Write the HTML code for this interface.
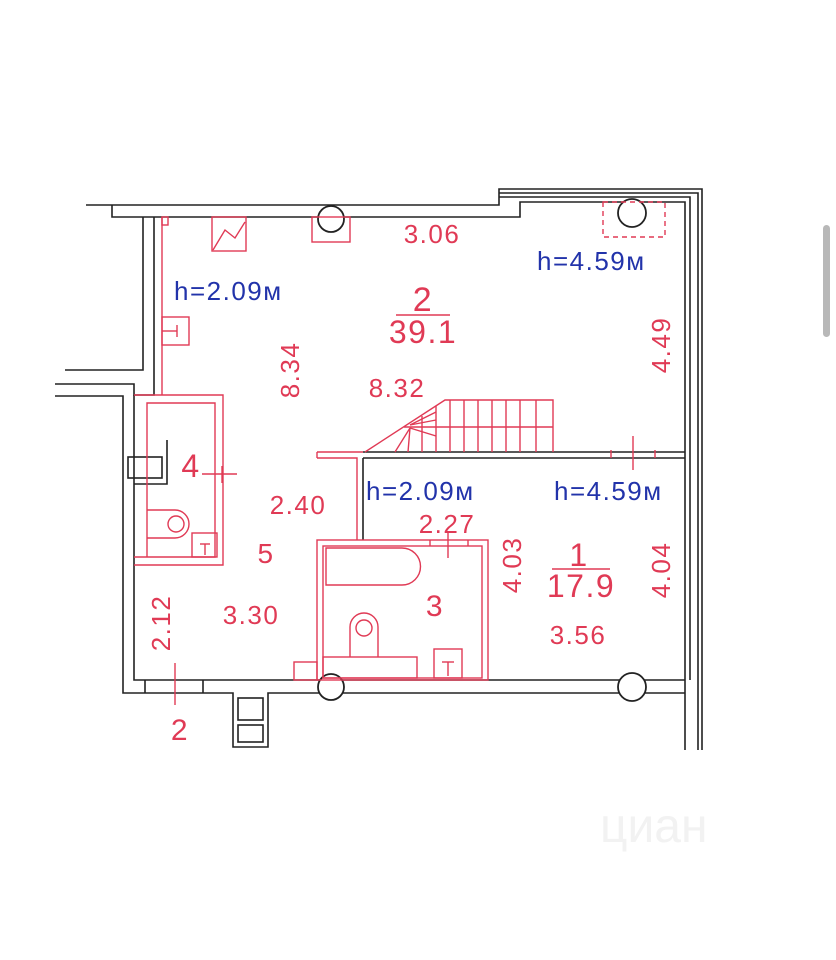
<!DOCTYPE html><html><head><meta charset="utf-8"><style>body{margin:0;background:#fff}svg{display:block}</style></head><body>
<svg width="836" height="960" viewBox="0 0 836 960" xmlns="http://www.w3.org/2000/svg" font-family="Liberation Sans, sans-serif">
<rect width="836" height="960" fill="#fff"/>
<rect x="823" y="225" width="7" height="112" rx="3.5" fill="#b8b8b8"/>
<g stroke="#222" stroke-width="1.6" fill="none">
<polyline points="86,205 499,205 499,189 702,189 702,750"/>
<polyline points="499,193 698,193 698,750"/>
<polyline points="499,197 690,197 690,680"/>
<polyline points="112,205 112,217 520,217 520,202 685,202 685,750"/>
<polyline points="143,217 143,370 65,370"/>
<polyline points="154,217 154,395 134,395 134,384 55,384"/>
<polyline points="55,396 123,396 123,693 233,693 233,747 268,747 268,693 318,693"/>
<polyline points="134,395 134,680 318,680"/>
<rect x="128" y="457" width="34" height="21"/>
<polyline points="134,484 167,484 167,440"/>
<rect x="238" y="698" width="25" height="22"/><rect x="238" y="725" width="25" height="17"/>
<line x1="145" y1="680" x2="145" y2="693"/><line x1="203" y1="680" x2="203" y2="693"/>
<line x1="318" y1="680" x2="685" y2="680"/><line x1="318" y1="693" x2="685" y2="693"/>
<line x1="363" y1="458" x2="363" y2="540"/>
<line x1="363" y1="452" x2="685" y2="452"/><line x1="363" y1="458" x2="685" y2="458"/>
</g>
<g fill="#fff" stroke="#222" stroke-width="1.8">
<circle cx="331" cy="219" r="13"/><circle cx="632" cy="213" r="14"/>
<circle cx="331" cy="687" r="13"/><circle cx="632" cy="687" r="14"/>
</g>
<g stroke="#e03a55" stroke-width="1.4" fill="none">
<line x1="162" y1="217" x2="162" y2="395"/>
<rect x="162" y="217" width="6" height="8"/>
<rect x="162" y="317" width="27" height="28"/><line x1="162" y1="331" x2="177" y2="331"/><line x1="177" y1="325" x2="177" y2="337"/>
<rect x="212" y="217" width="34" height="34"/><polyline points="213,250 225,230 235,238 245,222"/>
<rect x="312" y="217" width="38" height="25"/>
<rect x="603" y="202" width="62" height="35" stroke-dasharray="5,4"/>
<polyline points="134,395 223,395 223,565 134,565"/>
<polyline points="147,480 147,403 215,403 215,557 134,557"/>
<line x1="147" y1="480" x2="147" y2="557"/>
<path d="M147,510 h28 a14,14 0 0 1 0,28 h-28"/><circle cx="176" cy="524" r="8"/>
<rect x="192" y="533" width="25" height="24"/><line x1="200" y1="544" x2="210" y2="544"/><line x1="205" y1="544" x2="205" y2="555"/>
<line x1="202" y1="474" x2="237" y2="474"/><line x1="222" y1="466" x2="222" y2="483"/>
<polyline points="317,452 363,452"/><polyline points="317,458 357,458 357,540"/>
<line x1="317" y1="452" x2="317" y2="458"/>
<rect x="317" y="540" width="171" height="140"/>
<rect x="323" y="546" width="159" height="132"/>
<path d="M326,548 h76 a18.5,18.5 0 0 1 0,37 h-76 z"/>
<path d="M350,657 v-30 a14,14 0 0 1 28,0 v30"/><circle cx="364" cy="628" r="8"/>
<rect x="323" y="657" width="94" height="21"/>
<rect x="434" y="649" width="28" height="29"/><line x1="442" y1="662" x2="454" y2="662"/><line x1="448" y1="662" x2="448" y2="676"/>
<rect x="294" y="662" width="23" height="18"/>
<line x1="448" y1="533" x2="448" y2="558"/><line x1="430" y1="540" x2="430" y2="546"/><line x1="468" y1="540" x2="468" y2="546"/>
<polyline points="365,452 445,400 553,400 553,452"/>
<line x1="404" y1="427" x2="553" y2="427"/>
<g>
<line x1="422" y1="416" x2="422" y2="452"/><line x1="436" y1="406" x2="436" y2="452"/>
<line x1="450" y1="400" x2="450" y2="452"/><line x1="464" y1="400" x2="464" y2="452"/>
<line x1="478" y1="400" x2="478" y2="452"/><line x1="492" y1="400" x2="492" y2="452"/>
<line x1="506" y1="400" x2="506" y2="452"/><line x1="520" y1="400" x2="520" y2="452"/>
<line x1="536" y1="400" x2="536" y2="452"/>
<line x1="410" y1="425" x2="436" y2="412"/><line x1="410" y1="425" x2="436" y2="420"/><line x1="410" y1="428" x2="436" y2="436"/><line x1="410" y1="428" x2="395" y2="452"/><line x1="410" y1="428" x2="408" y2="452"/>
</g>
<line x1="633" y1="436" x2="633" y2="470"/><line x1="611" y1="450" x2="611" y2="458"/><line x1="655" y1="450" x2="655" y2="458"/>
<line x1="175" y1="663" x2="175" y2="705"/>
<line x1="396" y1="315" x2="450" y2="315"/><line x1="552" y1="569" x2="610" y2="569"/>
</g>
<g fill="#e03a55" font-size="26" letter-spacing="1.5" text-anchor="middle">
<text x="432" y="243">3.06</text>
<text x="423" y="311" font-size="34">2</text><text x="423" y="343" font-size="32">39.1</text>
<text transform="translate(290,370) rotate(-90)" dy="9">8.34</text>
<text x="397" y="397">8.32</text>
<text transform="translate(661,345) rotate(-90)" dy="9">4.49</text>
<text x="191" y="477" font-size="32">4</text>
<text x="298" y="514">2.40</text>
<text x="266" y="563" font-size="28">5</text>
<text x="447" y="533">2.27</text>
<text transform="translate(512,565) rotate(-90)" dy="9">4.03</text>
<text x="579" y="566" font-size="32">1</text><text x="581" y="597" font-size="32">17.9</text>
<text transform="translate(661,570) rotate(-90)" dy="9">4.04</text>
<text x="578" y="644">3.56</text>
<text transform="translate(161,623) rotate(-90)" dy="9">2.12</text>
<text x="251" y="624">3.30</text>
<text x="435" y="616" font-size="30">3</text>
<text x="180" y="740" font-size="30">2</text>
</g>
<g fill="#2233aa" font-size="26" letter-spacing="1.5">
<text x="174" y="300">h=2.09м</text>
<text x="537" y="270">h=4.59м</text>
<text x="366" y="500">h=2.09м</text>
<text x="554" y="500">h=4.59м</text>
</g>
<text x="600" y="842" font-size="48" fill="#f2f2f2">циан</text>
</svg>
</body></html>
